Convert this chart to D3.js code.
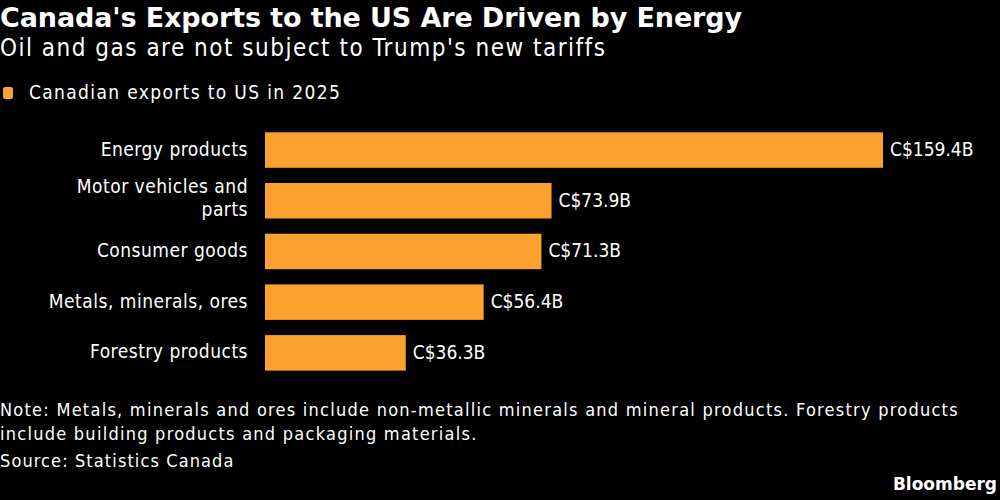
<!DOCTYPE html>
<html><head><meta charset="utf-8">
<script src="https://cdn.jsdelivr.net/npm/d3@7"></script>
<style>
html,body{margin:0;padding:0;background:#000;}
svg{display:block;}
text{font-family:"DejaVu Sans Condensed","DejaVu Sans",sans-serif;fill:#fff;}
</style></head>
<body>
<svg id="chart" width="1000" height="500"></svg>
<script>
const categories = ["Energy products", "Motor vehicles and parts", "Consumer goods", "Metals, minerals, ores", "Forestry products"];
const categoryLines = [["Energy products"], ["Motor vehicles and", "parts"], ["Consumer goods"], ["Metals, minerals, ores"], ["Forestry products"]];
const values = [159.4, 73.9, 71.3, 56.4, 36.3];
const valueLabels = ["C$159.4B", "C$73.9B", "C$71.3B", "C$56.4B", "C$36.3B"];
const seriesName = "Canadian exports to US in 2025";
const title = "Canada's Exports to the US Are Driven by Energy";
const subtitle = "Oil and gas are not subject to Trump's new tariffs";
const noteLines = ["Note: Metals, minerals and ores include non-metallic minerals and mineral products. Forestry products", "include building products and packaging materials."];
const source = "Source: Statistics Canada";

const svg = d3.select("#chart");
const orange = "#fba12d";

svg.append("rect").attr("width",1000).attr("height",500).attr("fill","#000");

svg.append("text").attr("x",0).attr("y",27).text(title)
  .style("font-size","27px").style("font-weight","bold").style("letter-spacing","-0.12px")
  .style("font-family","'DejaVu Sans',sans-serif");
svg.append("text").attr("x",0).attr("y",56).text(subtitle)
  .style("font-size","24px").style("letter-spacing","1.5px");

svg.append("rect").attr("x",3).attr("y",87).attr("width",10).attr("height",12).attr("rx",2).attr("fill",orange);
svg.append("text").attr("x",29).attr("y",99).text(seriesName)
  .style("font-size","19px").style("letter-spacing","1.35px");

const x = d3.scaleLinear().domain([0, 159.4]).range([265, 883]);
const y = d3.scaleBand().domain(categories).range([124.7, 378.2]).paddingInner(0.3).paddingOuter(0.15);

const g = svg.append("g");
g.selectAll("rect.bar").data(values).join("rect").attr("class","bar")
  .attr("x", x(0)).attr("y",(d,i)=>y(categories[i]))
  .attr("width",d=>x(d)-x(0)).attr("height",y.bandwidth()).attr("fill",orange);

g.selectAll("text.val").data(values).join("text").attr("class","val")
  .attr("x",d=>x(d)+7).attr("y",(d,i)=>y(categories[i])+y.bandwidth()/2+6)
  .text((d,i)=>valueLabels[i]).style("font-size","19px");

categoryLines.forEach((lines,i)=>{
  const cy = y(categories[i]) + y.bandwidth()/2;
  const lh = 22.5;
  const off = lines.length > 1 ? 3.5 : 5.5;
  const t = g.append("text").attr("text-anchor","end")
    .style("font-size","19px").style("letter-spacing","0.5px");
  lines.forEach((ln,j)=>{
    t.append("tspan").attr("x",248).attr("y", cy + off + (j - (lines.length-1)/2)*lh).text(ln);
  });
});

noteLines.forEach((ln,i)=>{
  svg.append("text").attr("x",0).attr("y",416 + i*24).text(ln)
    .style("font-size","18px").style("letter-spacing","1.25px");
});
svg.append("text").attr("x",0).attr("y",467).text(source)
  .style("font-size","18px").style("letter-spacing","1.1px");
svg.append("text").attr("x",997).attr("y",490).attr("text-anchor","end").text("Bloomberg")
  .style("font-size","17px").style("font-weight","bold").style("font-family","'DejaVu Sans',sans-serif");
</script>
</body></html>
